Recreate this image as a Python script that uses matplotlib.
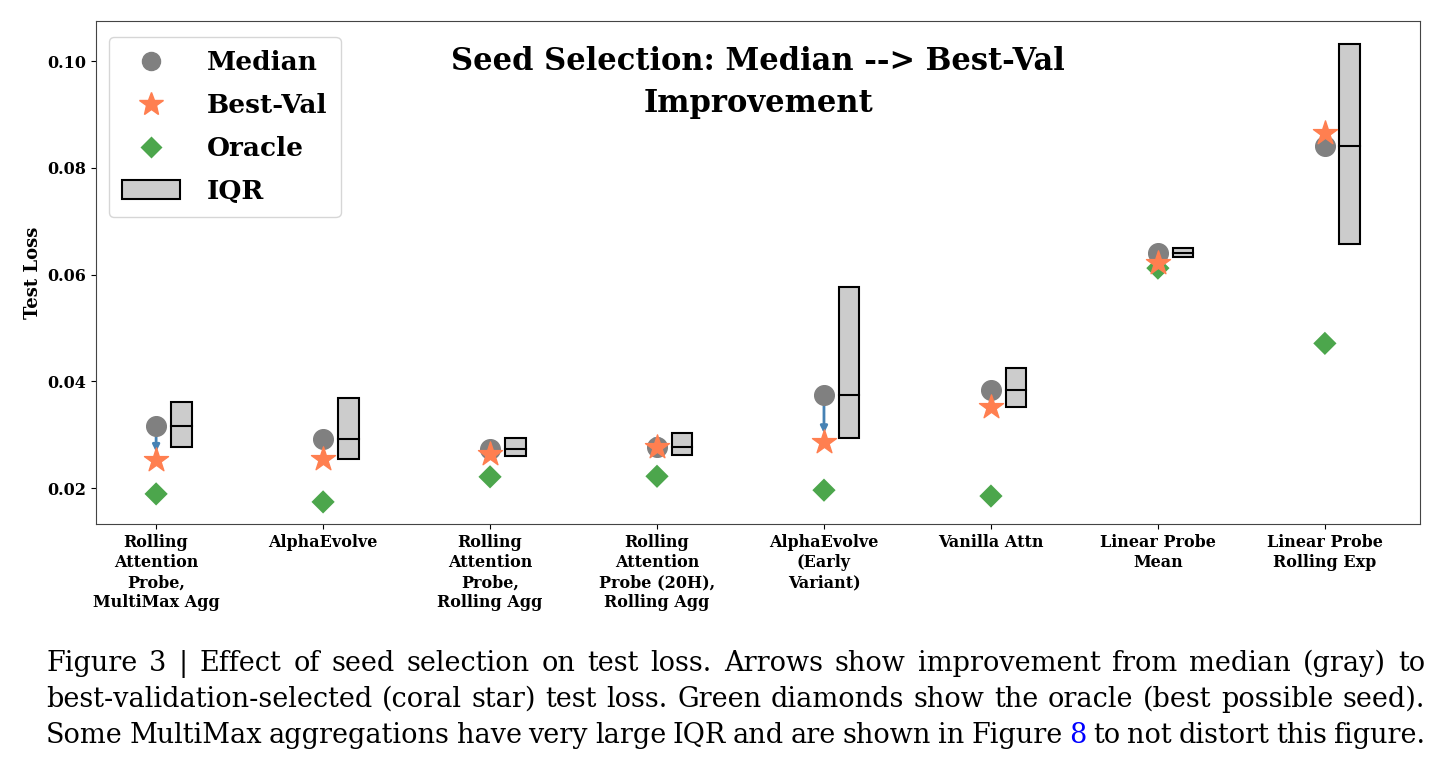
import matplotlib
matplotlib.use('Agg')
import matplotlib.pyplot as plt
from matplotlib.patches import Rectangle
from matplotlib.lines import Line2D

# data
categories = [
    'Rolling\nAttention\nProbe,\nMultiMax Agg',
    'AlphaEvolve',
    'Rolling\nAttention\nProbe,\nRolling Agg',
    'Rolling\nAttention\nProbe (20H),\nRolling Agg',
    'AlphaEvolve\n(Early\nVariant)',
    'Vanilla Attn',
    'Linear Probe\nMean',
    'Linear Probe\nRolling Exp',
]
median = [0.0316, 0.0291, 0.0274, 0.0277, 0.0375, 0.0383, 0.0641, 0.0840]
best_val = [0.0252, 0.0254, 0.0264, 0.0276, 0.0287, 0.0352, 0.0621, 0.0866]
oracle = [0.0189, 0.0174, 0.0221, 0.0222, 0.0196, 0.0185, 0.0612, 0.0471]
q25 = [0.0277, 0.0254, 0.0260, 0.0261, 0.0293, 0.0351, 0.0632, 0.0657]
q75 = [0.0361, 0.0368, 0.0294, 0.0304, 0.0577, 0.0425, 0.0650, 0.1031]

caption_lines = [
    'Figure 3 | Effect of seed selection on test loss. Arrows show improvement from median (gray) to',
    'best-validation-selected (coral star) test loss. Green diamonds show the oracle (best possible seed).',
]
caption_last = ['Some MultiMax aggregations have very large IQR and are shown in Figure ', '8',
                ' to not distort this figure.']

plt.rcParams['font.family'] = 'DejaVu Serif'

green = '#4ca64c'

fig = plt.figure(figsize=(14.48, 7.77), dpi=100)
ax = fig.add_axes([0.0663, 0.3256, 0.9144, 0.6474])

x = list(range(len(categories)))
offset = 0.15
width = 0.125

# arrows from median to best-val
for i in x:
    if best_val[i] < median[i]:
        ax.annotate(
            '', xy=(i, best_val[i]), xytext=(i, median[i]),
            arrowprops=dict(arrowstyle='-|>', color='steelblue', lw=2,
                            mutation_scale=10, shrinkA=0, shrinkB=6),
            zorder=2
        )

ax.scatter(x, median, s=200, color='gray', zorder=3)
ax.scatter(x, best_val, s=330, marker='*', color='coral', zorder=4)
ax.scatter(x, oracle, s=140, marker='D', color=green,
           edgecolors='none', zorder=3)

for i in x:
    ax.add_patch(Rectangle(
        (i + offset - width / 2, q25[i]), width, q75[i] - q25[i],
        facecolor='#cccccc', edgecolor='black', lw=1.5, zorder=2
    ))
    ax.plot([i + offset - width / 2, i + offset + width / 2],
            [median[i], median[i]], color='black', lw=1.5, zorder=3)

ax.set_xlim(-0.36, 7.57)
ax.set_ylim(0.01326, 0.1075)
ax.set_xticks(x)
ax.set_xticklabels(categories, fontsize=11.5, fontweight='bold',
                   linespacing=1.25)
ax.set_yticks([0.02, 0.04, 0.06, 0.08, 0.10])
ax.set_yticklabels(['0.02', '0.04', '0.06', '0.08', '0.10'],
                   fontsize=11.5, fontweight='bold')
ax.set_ylabel('Test Loss', fontsize=13, fontweight='bold')
for s in ax.spines.values():
    s.set_color('#444444')

ax.text(0.5, 0.95, 'Seed Selection: Median --> Best-Val\nImprovement',
        transform=ax.transAxes, ha='center', va='top', fontsize=22,
        fontweight='bold', linespacing=1.45)

handles = [
    Line2D([], [], marker='o', color='gray', ls='none', markersize=13),
    Line2D([], [], marker='*', color='coral', ls='none', markersize=18),
    Line2D([], [], marker='D', color=green, ls='none',
           markersize=11, markeredgecolor='none'),
    Rectangle((0, 0), 1, 1, facecolor='#cccccc', edgecolor='black', lw=1.5),
]
ax.legend(handles, ['Median', 'Best-Val', 'Oracle', 'IQR'],
          loc='upper left', bbox_to_anchor=(0.0, 0.995),
          prop=dict(size=19, weight='bold'),
          handlelength=2.2, handletextpad=1.0, labelspacing=0.68,
          borderpad=0.5)

# caption, justified to the text block
fig.canvas.draw()
renderer = fig.canvas.get_renderer()
x0, x1 = 46 / 1448, 1425 / 1448
cap_kw = dict(fontsize=19.5, va='baseline')


def justify(words, yy):
    arts = [fig.text(0, yy, w, color=c, **cap_kw) for w, c in words]
    widths = [a.get_window_extent(renderer).width / fig.bbox.width
              for a in arts]
    gap = (x1 - x0 - sum(widths)) / (len(words) - 1)
    pos = x0
    for a, w in zip(arts, widths):
        a.set_x(pos)
        pos += w + gap


ys = [1 - 671 / 777, 1 - 707 / 777, 1 - 743 / 777]
for line, yy in zip(caption_lines, ys):
    justify([(w, 'black') for w in line.split(' ')], yy)

words = []
for part, col in zip(caption_last, ['black', 'blue', 'black']):
    for w in part.split(' '):
        if w:
            words.append((w, col))
justify(words, ys[2])

fig.savefig('out.png', dpi=100)
